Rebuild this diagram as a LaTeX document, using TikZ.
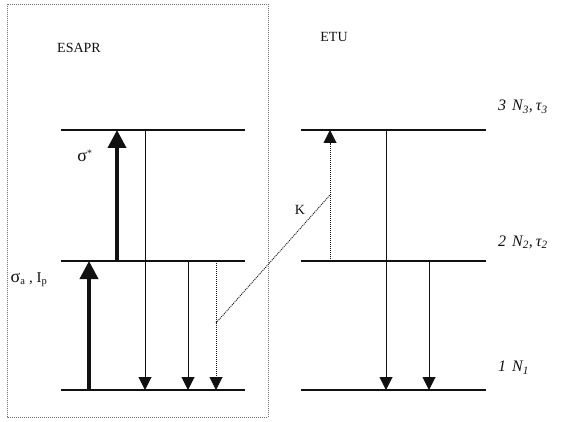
\documentclass[tikz,border=0pt]{standalone}
\usepackage{fontspec}
\setmainfont{Liberation Serif}
\usepackage{xcolor}
\usepackage{tikz}
\usetikzlibrary{arrows.meta}
\definecolor{LevelInk}{HTML}{111111}
\definecolor{BoxDots}{HTML}{6F6F6F}

\begin{document}
\begin{tikzpicture}[x=1pt,y=-1pt,
    level/.style={LevelInk, line width=1.5pt},
    pumpup/.style={LevelInk, line width=3.8pt, -{Triangle[length=18pt,width=18pt]}},
    decay/.style={LevelInk, line width=1pt, -{Triangle[length=13pt,width=13pt]}},
    dotdecay/.style={decay, dash pattern=on 1pt off 1pt},
    lbl/.style={text=LevelInk, inner sep=0pt, font=\fontsize{14pt}{17pt}\selectfont},
    lvlbl/.style={lbl, anchor=west, font=\fontsize{16pt}{19pt}\selectfont\itshape}]
        \useasboundingbox (0,0) rectangle (561,422);
        \draw[BoxDots, line width=0.8pt, dash pattern=on 1pt off 1pt] (7,4) rectangle (268,417);
        % energy levels, ESAPR side and ETU side
        \foreach \lv/\y in {1/390,2/261,3/130} {
          \coordinate (esapr\lv w) at (61,\y);
          \coordinate (esapr\lv e) at (245,\y);
          \coordinate (etu\lv w) at (301,\y);
          \coordinate (etu\lv e) at (486,\y);
          \draw[level] (esapr\lv w) -- (esapr\lv e);
          \draw[level] (etu\lv w) -- (etu\lv e);
        }
        \node[lbl] (esaprtitle) at (79,48) {ESAPR};
        \node[lbl] (etutitle) at (334,37) {ETU};
        \node[lvlbl] (lab3) at (498,107) {3\hspace{6pt}N\textsubscript{3},\hspace{3pt}τ\textsubscript{3}};
        \node[lvlbl] (lab2) at (498,242) {2\hspace{6pt}N\textsubscript{2},\hspace{3pt}τ\textsubscript{2}};
        \node[lvlbl] (lab1) at (498,368) {1\hspace{6pt}N\textsubscript{1}};
        % arrow feet
        \foreach \name/\x/\y in {gsa/89/390,gsb/89/261,esa/117/261,esb/117/130,
                                 fla/145/130,flb/145/390,fma/188/261,fmb/188/390,
                                 fda/216/261,fdb/216/390,upa/330/261,upb/330/130,
                                 tfa/386/130,tfb/386/390,tsa/429/261,tsb/429/390,
                                 kfrom/216/323,kto/330/195} {
          \coordinate (\name) at (\x,\y);
        }
        \draw[pumpup] (gsa) -- (gsb);
        \draw[pumpup] (esa) -- (esb);
        \draw[decay] (fla) -- (flb);
        \draw[decay] (fma) -- (fmb);
        \draw[dotdecay] (fda) -- (fdb);
        \draw[dotdecay] (upa) -- (upb);
        \draw[decay] (tfa) -- (tfb);
        \draw[decay] (tsa) -- (tsb);
        \draw[LevelInk, line width=0.9pt, dash pattern=on 1pt off 1pt] (kfrom) -- (kto);
        \node[lbl] (sigstar) at (85,156) {{\fontsize{18pt}{20pt}\selectfont σ}\textsuperscript{*}};
        \node[lbl, font=\fontsize{15pt}{18pt}\selectfont] (sigabs) at (29,280) {{\fontsize{18pt}{20pt}\selectfont σ}\textsubscript{a} , I\textsubscript{p}};
        \node[lbl] (kcoef) at (300,210) {K};
      \end{tikzpicture}
\end{document}
